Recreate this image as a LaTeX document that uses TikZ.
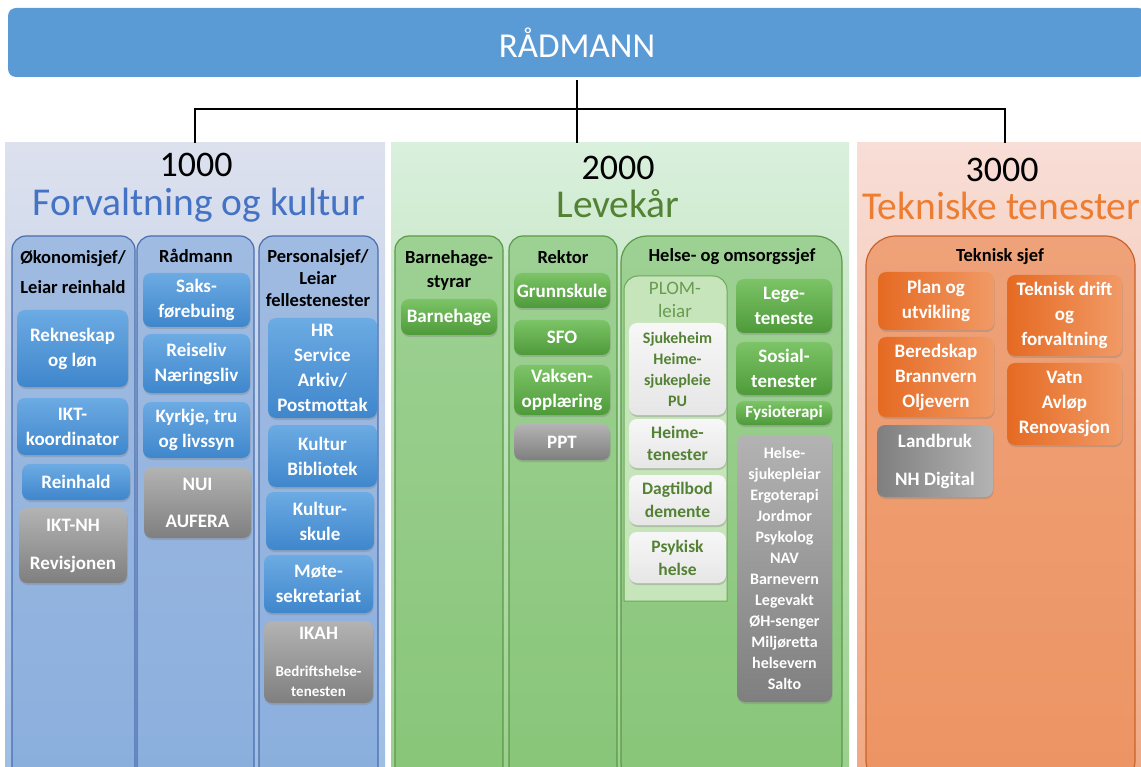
\documentclass[tikz,border=0pt]{standalone}
\usepackage{fontspec}
\setmainfont{Carlito}
\usetikzlibrary{shadows}

\definecolor{radblue}{HTML}{5B9BD5}
\definecolor{ponetop}{HTML}{DDE1EE}
\definecolor{ponebot}{HTML}{9DBDE3}
\definecolor{ptwotop}{HTML}{D9F0DD}
\definecolor{ptwobot}{HTML}{9ACF8C}
\definecolor{pthreetop}{HTML}{F8DED7}
\definecolor{pthreebot}{HTML}{F0A882}
\definecolor{colblue}{HTML}{7FA6DA}
\definecolor{colblueline}{HTML}{4A6DAE}
\definecolor{colgreen}{HTML}{7DC06C}
\definecolor{colgreenline}{HTML}{5B9A48}
\definecolor{colorange}{HTML}{EC8C57}
\definecolor{colorangeline}{HTML}{C8622A}
\definecolor{plomfill}{HTML}{C7E5BB}
\definecolor{plomline}{HTML}{6BAA56}
\definecolor{plomtext}{HTML}{6A9A50}
\definecolor{boxbluetop}{HTML}{6CABE3}
\definecolor{boxbluebot}{HTML}{3F86CC}
\definecolor{boxgreytop}{HTML}{B3B3B3}
\definecolor{boxgreybot}{HTML}{7F7F7F}
\definecolor{boxgreentop}{HTML}{7CC467}
\definecolor{boxgreenbot}{HTML}{4E9A39}
\definecolor{boxwhitetop}{HTML}{F7F7F7}
\definecolor{boxwhitebot}{HTML}{E6E6E6}
\definecolor{boxorangeleft}{HTML}{E56A22}
\definecolor{boxorangeright}{HTML}{F19A66}
\definecolor{titleblue}{HTML}{4472C4}
\definecolor{titlegreen}{HTML}{548235}
\definecolor{titleorange}{HTML}{ED7D31}

\tikzset{
  conn/.style={draw=black, line width=2.5pt},
  panel/.style={inner sep=0, minimum height=637},
  subcol/.style={inner sep=0, rounded corners=14, line width=1.2pt, minimum height=554, fill opacity=0.6},
  head/.style={inner sep=0, align=center, font=\fontsize{18.5}{22}\selectfont\bfseries},
  number/.style={inner sep=0, font=\fontsize{36}{38}\selectfont},
  title/.style={inner sep=0, font=\fontsize{39.5}{42}\selectfont},
  box/.style={inner sep=1pt, rounded corners=8, align=center, text=white,
    font=\fontsize{19}{25}\selectfont\bfseries,
    drop shadow={opacity=0.35, shadow xshift=0.6pt, shadow yshift=-2pt}},
  bluebox/.style={box, top color=boxbluetop, bottom color=boxbluebot},
  greybox/.style={box, top color=boxgreytop, bottom color=boxgreybot},
  greenbox/.style={box, top color=boxgreentop, bottom color=boxgreenbot},
  whitebox/.style={box, top color=boxwhitetop, bottom color=boxwhitebot, text=titlegreen},
  orangebox/.style={box, left color=boxorangeleft, right color=boxorangeright},
}

\begin{document}
\begin{tikzpicture}[x=1pt,y=-1pt]
\useasboundingbox (0,0) rectangle (1141,767);

\node[panel, minimum width=380, top color=ponetop, bottom color=ponebot] (p1) at (195,461.5) {};
\node[panel, minimum width=458, top color=ptwotop, bottom color=ptwobot] (p2) at (620,461.5) {};
\node[panel, minimum width=296, top color=pthreetop, bottom color=pthreebot] (p3) at (1005,461.5) {};

\node[inner sep=0, rounded corners=8, fill=radblue, minimum width=1138, minimum height=69,
  text=white, font=\fontsize{35}{37}\selectfont] (top) at (577,42.5) {RÅDMANN};

\coordinate (hub) at (577,109);
\draw[conn] ([yshift=-3pt]top.south) -- (top.south |- p2.north);
\draw[conn] (p1.north) |- (hub) -| (p3.north);

\node[number] (n1) at (196,164.5) {1000};
\node[title, text=titleblue] (t1) at (199,205) {Forvaltning og kultur};
\node[number] (n2) at (618,168) {2000};
\node[title, text=titlegreen] (t2) at (618,204) {Levekår};
\node[number] (n3) at (1002,170) {3000};
\node[title, text=titleorange, anchor=west] (t3) at (862,206) {Tekniske tenester};

\node[subcol, minimum width=123, fill=colblue, draw=colblueline] (ca) at (73.5,513) {};
\node[subcol, minimum width=117, fill=colblue, draw=colblueline] (cb) at (195.5,513) {};
\node[subcol, minimum width=119, fill=colblue, draw=colblueline] (cc) at (318.5,513) {};
\node[subcol, minimum width=108, fill=colgreen, draw=colgreenline] (cd) at (449,513) {};
\node[subcol, minimum width=108, fill=colgreen, draw=colgreenline] (ce) at (563,513) {};
\node[subcol, minimum width=221, fill=colgreen, draw=colgreenline, rounded corners=26] (cf) at (731.5,513) {};
\node[subcol, minimum width=269, fill=colorange, draw=colorangeline, rounded corners=30, fill opacity=0.7] (cg) at (1000.5,513) {};

\node[head, font=\fontsize{18.5}{30}\selectfont\bfseries] (ha) at (73,272) {Økonomisjef/\\Leiar reinhald};
\node[head] (hb) at (196,256) {Rådmann};
\node[head] (hc) at (318,278) {Personalsjef/\\Leiar\\fellestenester};
\node[head, font=\fontsize{18.5}{24}\selectfont\bfseries] (hd) at (449,270) {Barnehage-\\styrar};
\node[head] (he) at (563,257) {Rektor};
\node[head] (hf) at (732,257) {Helse- og omsorgssjef};
\node[head] (hg) at (1000,257) {Teknisk sjef};

\node[bluebox, minimum width=111, minimum height=77] (rekn) at (72.5,348.5) {Rekneskap\\og løn};
\node[bluebox, minimum width=111, minimum height=57] (ikt) at (72.5,426.5) {IKT-\\koordinator};
\node[bluebox, minimum width=108, minimum height=36] (rein) at (76,482) {Reinhald};
\node[greybox, minimum width=108, minimum height=75, font=\fontsize{19}{38}\selectfont\bfseries] (iktnh) at (73,545.5) {IKT-NH\\Revisjonen};

\node[bluebox, minimum width=107, minimum height=54] (saks) at (196.5,300) {Saks-\\førebuing};
\node[bluebox, minimum width=107, minimum height=59] (reis) at (196.5,363.5) {Reiseliv\\Næringsliv};
\node[bluebox, minimum width=107, minimum height=56] (kyrk) at (196.5,430) {Kyrkje, tru\\og livssyn};
\node[greybox, minimum width=107, minimum height=71, font=\fontsize{19}{37}\selectfont\bfseries] (nui) at (197.5,502.5) {NUI\\AUFERA};

\node[bluebox, minimum width=109, minimum height=100] (hr) at (322.5,368) {HR\\Service\\Arkiv/\\Postmottak};
\node[bluebox, minimum width=109, minimum height=62] (kult) at (322.5,456) {Kultur\\Bibliotek};
\node[bluebox, minimum width=108, minimum height=58] (ksk) at (320,521) {Kultur-\\skule};
\node[bluebox, minimum width=109, minimum height=58] (mote) at (318.5,584) {Møte-\\sekretariat};
\node[greybox, minimum width=109, minimum height=82, font=\fontsize{15}{20}\selectfont\bfseries] (ikah) at (318.5,662) {{\fontsize{19}{20}\selectfont IKAH}\\[17pt]Bedriftshelse-\\tenesten};

\node[greenbox, minimum width=96, minimum height=36] (bhg) at (449,317) {Barnehage};

\node[greenbox, minimum width=96, minimum height=35] (grs) at (562,290.5) {Grunnskule};
\node[greenbox, minimum width=96, minimum height=35] (sfo) at (562,337.5) {SFO};
\node[greenbox, minimum width=96, minimum height=50] (vaks) at (562,390) {Vaksen-\\opplæring};
\node[greybox, minimum width=96, minimum height=36] (ppt) at (562,442) {PPT};

\draw[fill=plomfill, draw=plomline, line width=1pt] (624,601) [rounded corners=14] -- (624,276) -- (727,276) [sharp corners] -- (727,601) -- cycle;
\node[head, font=\fontsize{19}{23}\selectfont, text=plomtext] (plom) at (675,300) {PLOM-\\leiar};
\node[whitebox, minimum width=97, minimum height=92, font=\fontsize{16}{21}\selectfont\bfseries] (sjuk) at (677.5,369) {Sjukeheim\\Heime-\\sjukepleie\\PU};
\node[whitebox, minimum width=97, minimum height=49, font=\fontsize{17.5}{22}\selectfont\bfseries] (heim) at (677.5,443.5) {Heime-\\tenester};
\node[whitebox, minimum width=97, minimum height=50, font=\fontsize{17.5}{23}\selectfont\bfseries] (dag) at (677.5,500) {Dagtilbod\\demente};
\node[whitebox, minimum width=97, minimum height=51, font=\fontsize{17.5}{23}\selectfont\bfseries] (psyk) at (677.5,557.5) {Psykisk\\helse};

\node[greenbox, minimum width=96, minimum height=54] (lege) at (784,306) {Lege-\\teneste};
\node[greenbox, minimum width=96, minimum height=53] (sos) at (784,368.5) {Sosial-\\tenester};
\node[greenbox, minimum width=96, minimum height=24, font=\fontsize{17}{20}\selectfont\bfseries] (fys) at (784,413) {Fysioterapi};
\node[greybox, minimum width=95, minimum height=267, font=\fontsize{16}{21}\selectfont\bfseries] (helse) at (784.5,568.5) {Helse-\\sjukepleiar\\Ergoterapi\\Jordmor\\Psykolog\\NAV\\Barnevern\\Legevakt\\ØH-senger\\Miljøretta\\helsevern\\Salto};

\node[orangebox, minimum width=116, minimum height=58] (plan) at (936,301) {Plan og\\utvikling};
\node[orangebox, minimum width=116, minimum height=80] (bere) at (936,377) {Beredskap\\Brannvern\\Oljevern};
\node[box, left color=boxgreybot, right color=boxgreytop, minimum width=116, minimum height=72, font=\fontsize{19}{38}\selectfont\bfseries] (land) at (935,461) {Landbruk\\NH Digital};
\node[orangebox, minimum width=115, minimum height=81] (tekd) at (1064.5,315.5) {Teknisk drift\\og\\forvaltning};
\node[orangebox, minimum width=115, minimum height=82] (vatn) at (1064.5,404) {Vatn\\Avløp\\Renovasjon};
\end{tikzpicture}
\end{document}
